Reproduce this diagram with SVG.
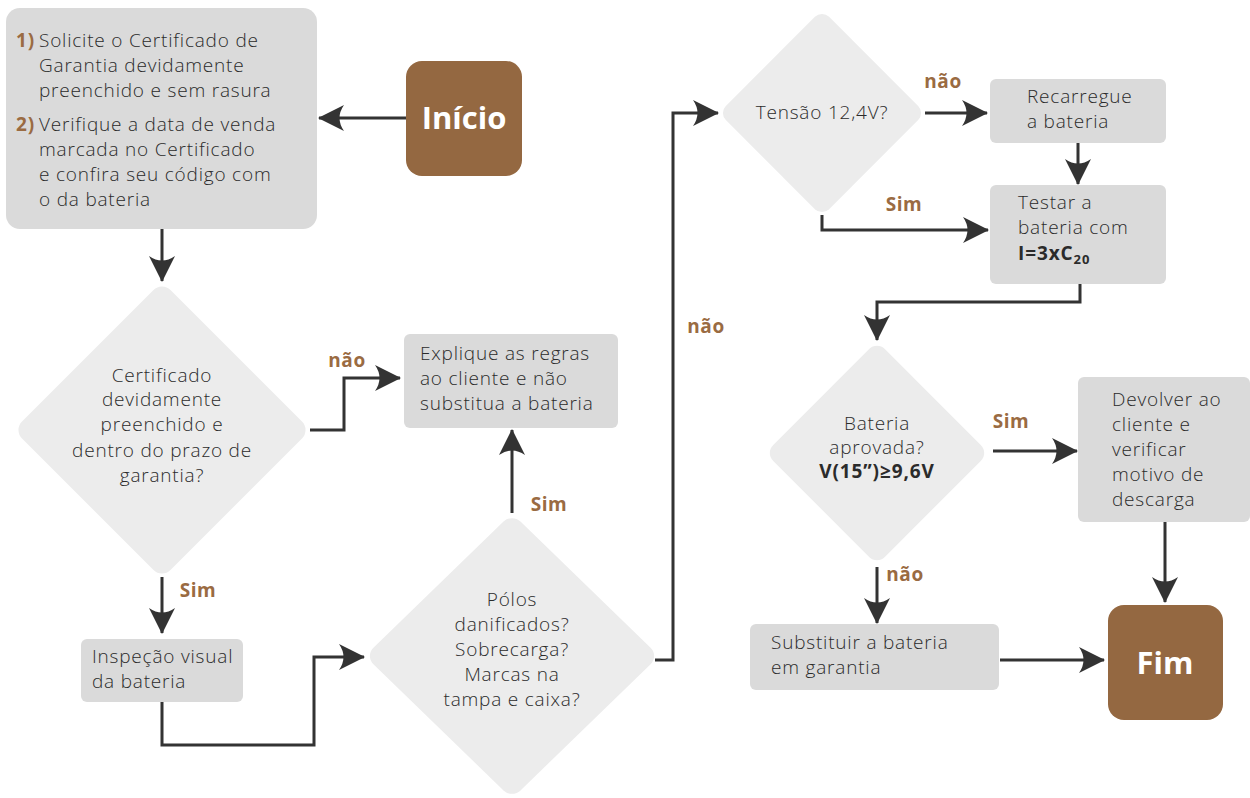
<svg xmlns="http://www.w3.org/2000/svg" width="1250" height="798" viewBox="0 0 1250 798">
<defs>
<style>
.box{fill:#dadada}
.dia{fill:#ececec}
.term{fill:#946841}
.t{font-family:"Open Sans","Liberation Sans",sans-serif;font-size:19px;font-weight:300;letter-spacing:0.8px;fill:#2b2b2b}
.c{text-anchor:middle}
.b{font-weight:bold;letter-spacing:0.9px}
.lbl{font-family:"Open Sans","Liberation Sans",sans-serif;font-size:19px;font-weight:bold;letter-spacing:0.6px;fill:#9a6b42;text-anchor:middle}
.num{fill:#9a6b42;font-weight:bold}
.tt{font-family:"Open Sans","Liberation Sans",sans-serif;font-size:31px;font-weight:bold;fill:#ffffff;text-anchor:middle}
.con{fill:none;stroke:#333333;stroke-width:3;marker-end:url(#ah)}
</style>
<marker id="ah" viewBox="0 0 26 28" refX="25" refY="14" markerWidth="26" markerHeight="28" markerUnits="userSpaceOnUse" orient="auto">
<path d="M0,1 L26,14 L0,27 Q9,14 0,1 Z" fill="#333333"/>
</marker>
</defs>
<rect width="1250" height="798" fill="#ffffff"/>

<g id="connectors">
<path class="con" d="M406,118 H319"/>
<path class="con" d="M162,229 V281"/>
<path class="con" d="M310,430 H344 V378 H400"/>
<path class="con" d="M162,577 V633"/>
<path class="con" d="M162,702 V745 H314 V657 H364"/>
<path class="con" d="M512,513 V430"/>
<path class="con" d="M655,660 H673 V113 H718"/>
<path class="con" d="M925,113 H987"/>
<path class="con" d="M1078,143 V184"/>
<path class="con" d="M822,215 V230 H988"/>
<path class="con" d="M1080,284 V302 H877 V340"/>
<path class="con" d="M993,451 H1077"/>
<path class="con" d="M1165,522 V602"/>
<path class="con" d="M877,567 V623"/>
<path class="con" d="M1000,660 H1104"/>
<text class="lbl" x="347" y="367">não</text>
<text class="lbl" x="549" y="511">Sim</text>
<text class="lbl" x="198" y="597">Sim</text>
<text class="lbl" x="706" y="333">não</text>
<text class="lbl" x="943" y="88">não</text>
<text class="lbl" x="904" y="211">Sim</text>
<text class="lbl" x="1011" y="428">Sim</text>
<text class="lbl" x="905" y="581">não</text>
</g>

<g id="n-instrucoes">
<rect class="box" x="6" y="8" width="311" height="221" rx="14"/>
<text class="t" x="16" y="47"><tspan class="num">1)</tspan><tspan x="39">Solicite o Certificado de</tspan></text>
<text class="t" x="39" y="72">Garantia devidamente</text>
<text class="t" x="39" y="97">preenchido e sem rasura</text>
<text class="t" x="16" y="131"><tspan class="num">2)</tspan><tspan x="39">Verifique a data de venda</tspan></text>
<text class="t" x="39" y="156">marcada no Certificado</text>
<text class="t" x="39" y="181">e confira seu código com</text>
<text class="t" x="39" y="206">o da bateria</text>
</g>

<g id="n-inicio">
<rect class="term" x="406" y="61" width="116" height="115" rx="16"/>
<text class="tt" x="464" y="129">Início</text>
</g>

<g id="n-certificado">
<rect class="dia" x="-105" y="-105" width="210" height="210" rx="12" transform="translate(162,430) rotate(45)"/>
<text class="t c" x="162" y="382">Certificado</text>
<text class="t c" x="162" y="406">devidamente</text>
<text class="t c" x="162" y="431">preenchido e</text>
<text class="t c" x="162" y="457">dentro do prazo de</text>
<text class="t c" x="162" y="482">garantia?</text>
</g>

<g id="n-explique">
<rect class="box" x="404" y="334" width="214" height="94" rx="6"/>
<text class="t" x="420" y="360">Explique as regras</text>
<text class="t" x="420" y="385">ao cliente e não</text>
<text class="t" x="420" y="410">substitua a bateria</text>
</g>

<g id="n-inspecao">
<rect class="box" x="81" y="639" width="162" height="63" rx="6"/>
<text class="t" x="92" y="663">Inspeção visual</text>
<text class="t" x="92" y="688">da bateria</text>
</g>

<g id="n-polos">
<rect class="dia" x="-104" y="-104" width="208" height="208" rx="12" transform="translate(512,656) scale(1,0.97) rotate(45)"/>
<text class="t c" x="512" y="606">Pólos</text>
<text class="t c" x="512" y="631">danificados?</text>
<text class="t c" x="512" y="656">Sobrecarga?</text>
<text class="t c" x="512" y="681">Marcas na</text>
<text class="t c" x="512" y="706">tampa e caixa?</text>
</g>

<g id="n-tensao">
<rect class="dia" x="-73" y="-73" width="146" height="146" rx="10" transform="translate(822,113) rotate(45)"/>
<text class="t c" x="822" y="119">Tensão 12,4V?</text>
</g>

<g id="n-recarregue">
<rect class="box" x="990" y="79" width="176" height="64" rx="6"/>
<text class="t" x="1027" y="103">Recarregue</text>
<text class="t" x="1027" y="128">a bateria</text>
</g>

<g id="n-testar">
<rect class="box" x="990" y="185" width="176" height="99" rx="6"/>
<text class="t" x="1018" y="209">Testar a</text>
<text class="t" x="1018" y="234">bateria com</text>
<text class="t b" x="1018" y="260">I=3xC<tspan font-size="13" dy="4">20</tspan></text>
</g>

<g id="n-aprovada">
<rect class="dia" x="-79" y="-79" width="158" height="158" rx="11" transform="translate(877,453) rotate(45)"/>
<text class="t c" x="877" y="430">Bateria</text>
<text class="t c" x="877" y="454">aprovada?</text>
<text class="t c b" x="877" y="478">V(15”)≥9,6V</text>
</g>

<g id="n-devolver">
<rect class="box" x="1078" y="377" width="172" height="145" rx="6"/>
<text class="t" x="1112" y="406">Devolver ao</text>
<text class="t" x="1112" y="431">cliente e</text>
<text class="t" x="1112" y="456">verificar</text>
<text class="t" x="1112" y="481">motivo de</text>
<text class="t" x="1112" y="506">descarga</text>
</g>

<g id="n-substituir">
<rect class="box" x="750" y="624" width="249" height="66" rx="6"/>
<text class="t" x="771" y="649">Substituir a bateria</text>
<text class="t" x="771" y="674">em garantia</text>
</g>

<g id="n-fim">
<rect class="term" x="1108" y="605" width="115" height="115" rx="16"/>
<text class="tt" x="1165" y="674">Fim</text>
</g>
</svg>
